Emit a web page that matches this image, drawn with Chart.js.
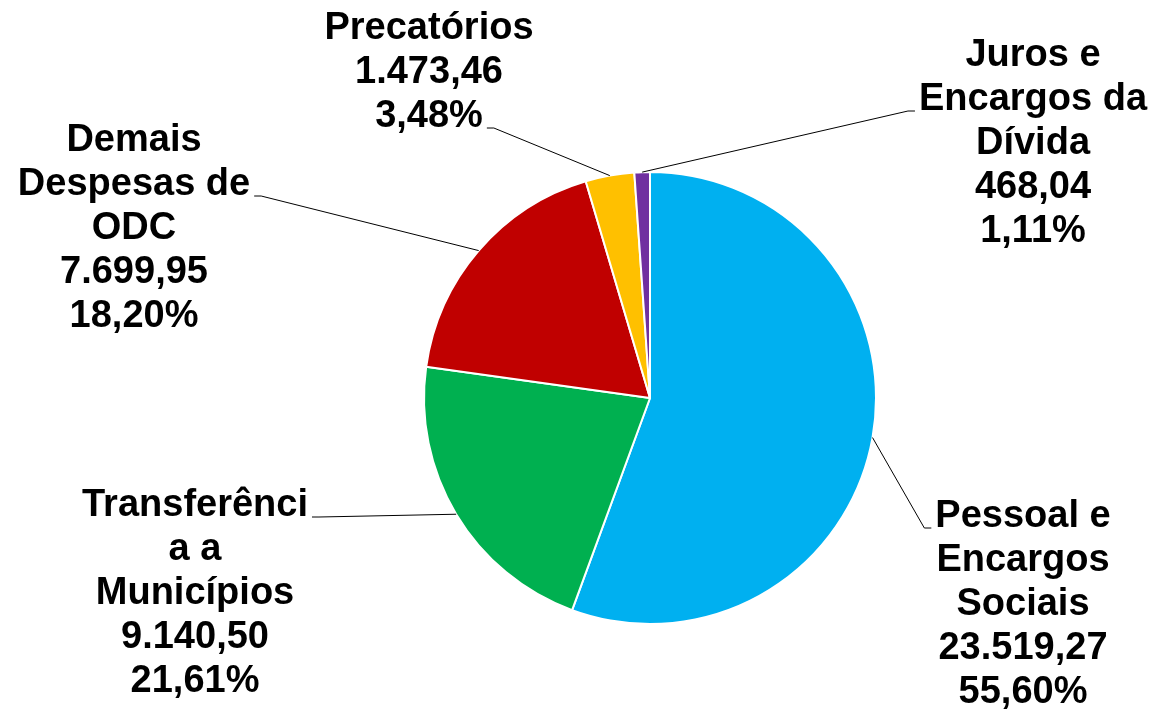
<!DOCTYPE html>
<html lang="pt-BR">
<head>
<meta charset="utf-8">
<title>Despesas por grupo</title>
<script src="https://cdn.jsdelivr.net/npm/chart.js@4.4.1/dist/chart.umd.min.js"></script>
<style>
html, body { margin: 0; padding: 0; background: #fff; }
#wrap { width: 1153px; height: 712px; position: relative; }
</style>
</head>
<body>
<div id="wrap"><canvas id="grafico"></canvas></div>
<script>
// Dados do gráfico
const categorias = ["Pessoal e Encargos Sociais", "Transferência a Municípios", "Demais Despesas de ODC", "Precatórios", "Juros e Encargos da Dívida"];
// quebras de linha como aparecem nos rótulos
const rotulosLinhas = [
    ["Pessoal e", "Encargos", "Sociais"],
    ["Transferênci", "a a", "Municípios"],
    ["Demais", "Despesas de", "ODC"],
    ["Precatórios"],
    ["Juros e", "Encargos da", "Dívida"]
];
const valores = [23519.27, 9140.50, 7699.95, 1473.46, 468.04];
const cores = ["#00B0F0", "#00B050", "#C00000", "#FFC000", "#7030A0"];

// Posição dos rótulos (centro do texto, primeira linha) e linha onde a guia se prende
const posRotulos = [
    { x: 1023, y: 517, linha: 0, lado: "esq" },
    { x: 195, y: 506, linha: 0, lado: "dir" },
    { x: 134, y: 141, linha: 1, lado: "dir" },
    { x: 429, y: 29, linha: 2, lado: "dir" },
    { x: 1033, y: 56, linha: 1, lado: "esq" }
];
const alturaLinha = 44;

function formatar(n) {
    const partes = n.toFixed(2).split(".");
    partes[0] = partes[0].replace(/\B(?=(\d{3})+(?!\d))/g, ".");
    return partes.join(",");
}

const pluginRotulos = {
    id: "rotulos",
    afterDraw(chart) {
        const ctx = chart.ctx;
        const meta = chart.getDatasetMeta(0);
        const total = valores.reduce((a, b) => a + b, 0);
        ctx.save();
        ctx.font = "bold 38px 'Liberation Sans', Arial, sans-serif";
        ctx.textAlign = "center";
        ctx.textBaseline = "middle";
        ctx.fillStyle = "#000";
        ctx.strokeStyle = "#000";
        ctx.lineWidth = 1;
        meta.data.forEach(function (arc, i) {
            const p = posRotulos[i];
            const linhas = rotulosLinhas[i].concat([formatar(valores[i]), formatar(valores[i] / total * 100) + "%"]);
            linhas.forEach((t, k) => ctx.fillText(t, p.x, p.y + k * alturaLinha));

            // linha guia do meio da fatia até o rótulo
            const a = arc.getProps(["x", "y", "startAngle", "endAngle", "outerRadius"], true);
            const meio = (a.startAngle + a.endAngle) / 2;
            const ax = a.x + Math.cos(meio) * a.outerRadius;
            const ay = a.y + Math.sin(meio) * a.outerRadius;
            const w = ctx.measureText(linhas[p.linha]).width;
            const ly = p.y + p.linha * alturaLinha + 11;
            const lx = p.lado === "esq" ? p.x - w / 2 - 4 : p.x + w / 2 + 4;
            const tx = p.lado === "esq" ? lx - 7 : lx + 7;
            ctx.beginPath();
            ctx.moveTo(lx, ly);
            ctx.lineTo(tx, ly);
            ctx.lineTo(ax, ay);
            ctx.stroke();
        });
        ctx.restore();
    }
};

const ctx = document.getElementById("grafico").getContext("2d");
const grafico = new Chart(ctx, {
    type: "pie",
    data: {
        labels: categorias,
        datasets: [{
            data: valores,
            backgroundColor: cores,
            borderColor: "#ffffff",
            borderWidth: 2
        }]
    },
    options: {
        responsive: true,
        maintainAspectRatio: false,
        animation: false,
        layout: { padding: { left: 200, right: 53, top: 171, bottom: 87 } },
        plugins: {
            legend: { display: false },
            tooltip: { enabled: false }
        }
    },
    plugins: [pluginRotulos]
});
</script>
</body>
</html>
